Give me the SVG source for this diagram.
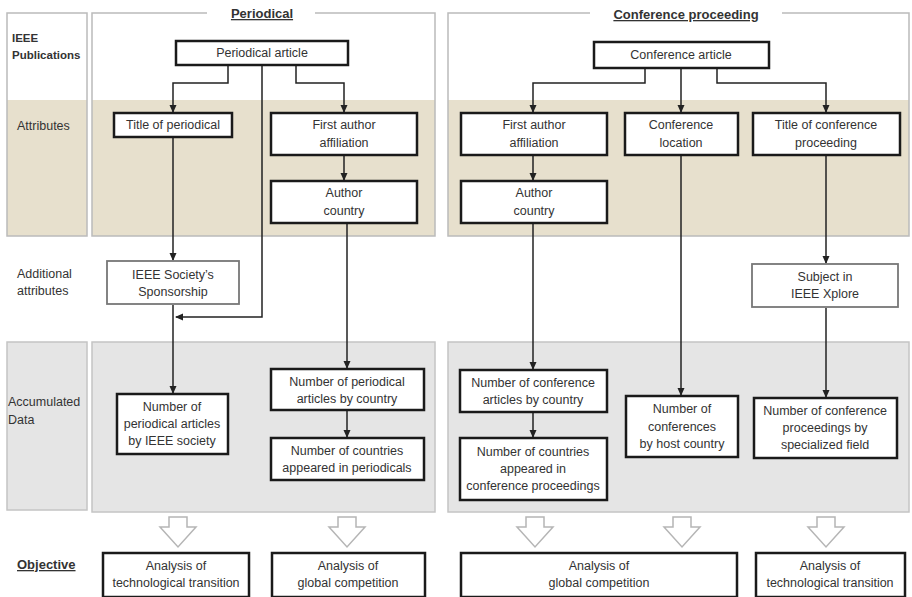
<svg xmlns="http://www.w3.org/2000/svg" width="912" height="597" viewBox="0 0 912 597">
<defs>
<style>
text{font-family:"Liberation Sans",Arial,sans-serif;font-size:12.5px;fill:#333;text-anchor:middle}
.lbl{text-anchor:start}
.b{font-weight:bold;font-size:11.5px}
.ttl{font-weight:bold;font-size:13px;text-decoration:underline}
.box{fill:#fff;stroke:#1a1a1a;stroke-width:2.5}
.box2{fill:#fff;stroke:#777;stroke-width:1.8}
.pan{stroke:#bbb;stroke-width:1.5;fill:none}
.tan{fill:#e7e0cd}
.gry{fill:#e5e5e5;stroke:#c4c4c4;stroke-width:1.5}
.con{fill:none;stroke:#222;stroke-width:1.5;marker-end:url(#ah)}
.hol{fill:#fff;stroke:#b5b5b5;stroke-width:1.5}
</style>
<marker id="ah" markerWidth="8" markerHeight="8" refX="7" refY="4" orient="auto" markerUnits="userSpaceOnUse"><path d="M0,0.5 L8,4 L0,7.5 z" fill="#222"/></marker>
</defs>

<g id="backgrounds">
<rect x="7" y="13" width="80" height="223" fill="#fff"/>
<rect class="tan" x="7" y="100" width="80" height="136"/>
<rect x="7" y="13" width="80" height="223" class="pan"/>
<rect class="tan" x="92" y="100" width="343" height="136"/>
<path class="pan" d="M207,13 H92 V236 H435 V13 H315"/>
<rect class="tan" x="448" y="100" width="461" height="136"/>
<path class="pan" d="M590,13 H448 V236 H909 V13 H782"/>
<rect class="gry" x="7" y="342" width="80" height="168"/>
<rect class="gry" x="92" y="342" width="343" height="170"/>
<rect class="gry" x="448" y="342" width="461" height="170"/>
</g>

<g id="row-labels">
<text class="lbl b" x="12" y="42">IEEE</text>
<text class="lbl b" x="12" y="59">Publications</text>
<text class="lbl" x="17" y="130">Attributes</text>
<text class="lbl" x="17" y="278">Additional</text>
<text class="lbl" x="17" y="295">attributes</text>
<text class="lbl" x="8" y="406">Accumulated</text>
<text class="lbl" x="8" y="424">Data</text>
<text class="lbl b" x="17" y="569" text-decoration="underline" style="font-size:13px">Objective</text>
</g>

<g id="section-titles">
<text class="ttl" x="262" y="18">Periodical</text>
<text class="ttl" x="686" y="19">Conference proceeding</text>
</g>

<g id="connectors">
<path class="con" d="M228,66 V83 H173 V112"/>
<path class="con" d="M296,66 V83 H344 V112"/>
<path class="con" d="M262,66 V317 H176"/>
<path class="con" d="M173,138 V260"/>
<path class="con" d="M173,305 V393"/>
<path class="con" d="M344,156 V180"/>
<path class="con" d="M347,224 V368"/>
<path class="con" d="M347,411 V437"/>
<path class="con" d="M645,69 V83 H533 V112"/>
<path class="con" d="M681,69 V112"/>
<path class="con" d="M717,69 V83 H826 V112"/>
<path class="con" d="M533,156 V180"/>
<path class="con" d="M533,224 V369"/>
<path class="con" d="M533,413 V437"/>
<path class="con" d="M681,156 V395"/>
<path class="con" d="M826,156 V263"/>
<path class="con" d="M826,308 V397"/>
</g>

<g id="n-periodical-article"><rect class="box" x="176" y="41" width="172" height="24"/><text x="262" y="57">Periodical article</text></g>
<g id="n-title-periodical"><rect class="box" x="114" y="113" width="118" height="24"/><text x="173" y="129">Title of periodical</text></g>
<g id="n-p-affiliation"><rect class="box" x="271" y="113" width="146" height="42"/><text x="344" y="129">First author</text><text x="344" y="147">affiliation</text></g>
<g id="n-p-country"><rect class="box" x="271" y="181" width="146" height="42"/><text x="344" y="197">Author</text><text x="344" y="215">country</text></g>
<g id="n-sponsorship"><rect class="box2" x="107" y="261" width="132" height="43"/><text x="173" y="279">IEEE  Society’s</text><text x="173" y="296">Sponsorship</text></g>
<g id="n-p-by-society"><rect class="box" x="117" y="394" width="111" height="60"/><text x="172" y="411">Number of</text><text x="172" y="428">periodical articles</text><text x="172" y="445">by IEEE society</text></g>
<g id="n-p-by-country"><rect class="box" x="271" y="369" width="153" height="41"/><text x="347" y="386">Number of periodical</text><text x="347" y="403">articles by country</text></g>
<g id="n-p-countries"><rect class="box" x="271" y="438" width="153" height="42"/><text x="347" y="455">Number of countries</text><text x="347" y="472">appeared in periodicals</text></g>

<g id="n-conference-article"><rect class="box" x="594" y="42" width="175" height="26"/><text x="681" y="59">Conference article</text></g>
<g id="n-c-affiliation"><rect class="box" x="461" y="113" width="146" height="42"/><text x="534" y="129">First author</text><text x="534" y="147">affiliation</text></g>
<g id="n-c-location"><rect class="box" x="625" y="113" width="113" height="42"/><text x="681" y="129">Conference</text><text x="681" y="147">location</text></g>
<g id="n-c-title"><rect class="box" x="753" y="113" width="147" height="42"/><text x="826" y="129">Title of conference</text><text x="826" y="147">proceeding</text></g>
<g id="n-c-country"><rect class="box" x="461" y="181" width="146" height="42"/><text x="534" y="197">Author</text><text x="534" y="215">country</text></g>
<g id="n-xplore"><rect class="box2" x="752" y="264" width="146" height="43"/><text x="825" y="281">Subject in</text><text x="825" y="298">IEEE Xplore</text></g>
<g id="n-c-by-country"><rect class="box" x="460" y="370" width="147" height="42"/><text x="533" y="387">Number of conference</text><text x="533" y="404">articles by country</text></g>
<g id="n-c-countries"><rect class="box" x="460" y="438" width="147" height="62"/><text x="533" y="456">Number of countries</text><text x="533" y="473">appeared in</text><text x="533" y="490">conference proceedings</text></g>
<g id="n-c-host"><rect class="box" x="626" y="396" width="112" height="61"/><text x="682" y="413">Number of</text><text x="682" y="431">conferences</text><text x="682" y="448">by host country</text></g>
<g id="n-c-field"><rect class="box" x="754" y="398" width="143" height="60"/><text x="825" y="415">Number of conference</text><text x="825" y="432">proceedings by</text><text x="825" y="449">specialized field</text></g>

<g id="hollow-arrows">
<path class="hol" d="M169,517 H187 V527 H196 L178,547 L160,527 H169 Z"/>
<path class="hol" d="M338,517 H356 V527 H365 L347,547 L329,527 H338 Z"/>
<path class="hol" d="M526,517 H544 V527 H553 L535,547 L517,527 H526 Z"/>
<path class="hol" d="M673,517 H691 V527 H700 L682,547 L664,527 H673 Z"/>
<path class="hol" d="M817,517 H835 V527 H844 L826,547 L808,527 H817 Z"/>
</g>

<g id="n-obj-p-tech"><rect class="box" x="103" y="553" width="146" height="44"/><text x="176" y="570">Analysis of</text><text x="176" y="587">technological transition</text></g>
<g id="n-obj-p-global"><rect class="box" x="272" y="553" width="153" height="44"/><text x="348" y="570">Analysis of</text><text x="348" y="587">global competition</text></g>
<g id="n-obj-c-global"><rect class="box" x="461" y="553" width="276" height="44"/><text x="599" y="570">Analysis of</text><text x="599" y="587">global competition</text></g>
<g id="n-obj-c-tech"><rect class="box" x="756" y="553" width="149" height="44"/><text x="830" y="570">Analysis of</text><text x="830" y="587">technological transition</text></g>
</svg>
